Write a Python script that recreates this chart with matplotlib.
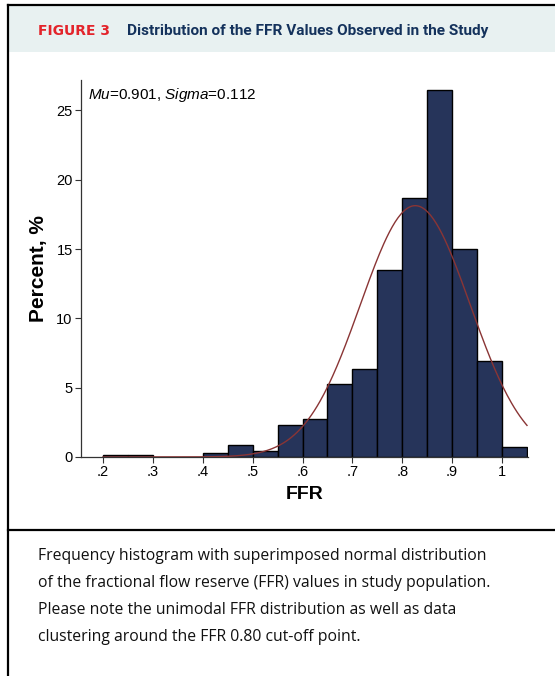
import numpy as np
import matplotlib
matplotlib.use('Agg')
import matplotlib.pyplot as plt
from matplotlib.patches import Rectangle
from matplotlib.lines import Line2D

matplotlib.rcParams['mathtext.fontset'] = 'custom'
matplotlib.rcParams['mathtext.rm'] = 'Liberation Sans'
matplotlib.rcParams['mathtext.it'] = 'Liberation Sans:italic'

# histogram bins (FFR, width 0.05) and percent per bin
bin_left = [0.20, 0.25, 0.30, 0.35, 0.40, 0.45, 0.50, 0.55, 0.60,
            0.65, 0.70, 0.75, 0.80, 0.85, 0.90, 0.95, 1.00]
bin_pct = [0.15, 0.15, 0.0, 0.0, 0.3, 0.85, 0.43, 2.3, 2.75,
           5.25, 6.35, 13.5, 18.7, 26.5, 15.0, 6.95, 0.7]
bin_width = 0.05

# normal curve as drawn in the figure
curve_mu = 0.826
curve_sigma = 0.11
curve_range = (0.20, 1.05)

x_ticks = [0.2, 0.3, 0.4, 0.5, 0.6, 0.7, 0.8, 0.9, 1.0]
x_tick_labels = ['.2', '.3', '.4', '.5', '.6', '.7', '.8', '.9', '1']
y_ticks = [0, 5, 10, 15, 20, 25]

W, H = 555, 676
fig = plt.figure(figsize=(W / 100, H / 100), dpi=100)


def fx(px):
    return px / W


def fy(py):
    return 1 - py / H


# header band and frame
fig.patches.append(Rectangle((fx(8), fy(52)), fx(W - 8), fy(6) - fy(52),
                             transform=fig.transFigure, facecolor='#e8f1f1',
                             edgecolor='none', zorder=0))
fig.lines.append(Line2D([fx(8), 1], [fy(5), fy(5)], transform=fig.transFigure,
                        color='black', lw=1.6))
fig.lines.append(Line2D([fx(8), fx(8)], [fy(5), 0], transform=fig.transFigure,
                        color='black', lw=1.6))
fig.lines.append(Line2D([fx(8), 1], [fy(530), fy(530)], transform=fig.transFigure,
                        color='black', lw=1.6))

fig.text(fx(38), fy(31), 'FIGURE 3', color='#e3242b', fontsize=10,
         fontweight='bold', family='DejaVu Sans', va='center')
fig.text(fx(127), fy(31), 'Distribution of the FFR Values Observed in the Study',
         color='#14325c', fontsize=11.1, fontweight='bold',
         family=['Liberation Sans Narrow', 'Roboto'], va='center')

caption = ['Frequency histogram with superimposed normal distribution',
           'of the fractional flow reserve (FFR) values in study population.',
           'Please note the unimodal FFR distribution as well as data',
           'clustering around the FFR 0.80 cut-off point.']
for i, line in enumerate(caption):
    fig.text(fx(38), fy(556 + 27 * i), line, fontsize=11.3, family='Open Sans',
             color='#111111', va='center')

# plot area
ax = fig.add_axes([fx(81), fy(457), fx(528) - fx(81), fy(80) - fy(457)])
ax.bar(bin_left, bin_pct, width=bin_width, align='edge', color='#26345a',
       edgecolor='black', linewidth=1.0, zorder=2)

xs = np.linspace(curve_range[0], curve_range[1], 300)
ys = 100 * bin_width / (curve_sigma * np.sqrt(2 * np.pi)) * \
    np.exp(-0.5 * ((xs - curve_mu) / curve_sigma) ** 2)
ax.plot(xs, ys, color='#8a3535', lw=1.0, zorder=3)

ax.set_xlim(0.156, 1.052)
ax.set_ylim(0, 27.2)
ax.set_xticks(x_ticks)
ax.set_xticklabels(x_tick_labels)
ax.set_yticks(y_ticks)
for s in ['top', 'right']:
    ax.spines[s].set_visible(False)
for s in ['left', 'bottom']:
    ax.spines[s].set_color('#333333')
    ax.spines[s].set_linewidth(0.9)
ax.tick_params(length=4, width=0.8, color='#333333', labelsize=10.5, pad=2)
for lab in ax.get_xticklabels() + ax.get_yticklabels():
    lab.set_family('Liberation Sans')

ax.set_xlabel('FFR', fontsize=14, fontweight='bold', family='Liberation Sans',
              labelpad=5)
ax.set_ylabel('Percent, %', fontsize=15, fontweight='bold',
              family='Liberation Sans', labelpad=6)

ax.text(0.17, 26.1, r'$\mathit{Mu}$=0.901, $\mathit{Sigma}$=0.112', fontsize=11,
        family='Liberation Sans', va='center')

fig.savefig('out.png', dpi=100)
